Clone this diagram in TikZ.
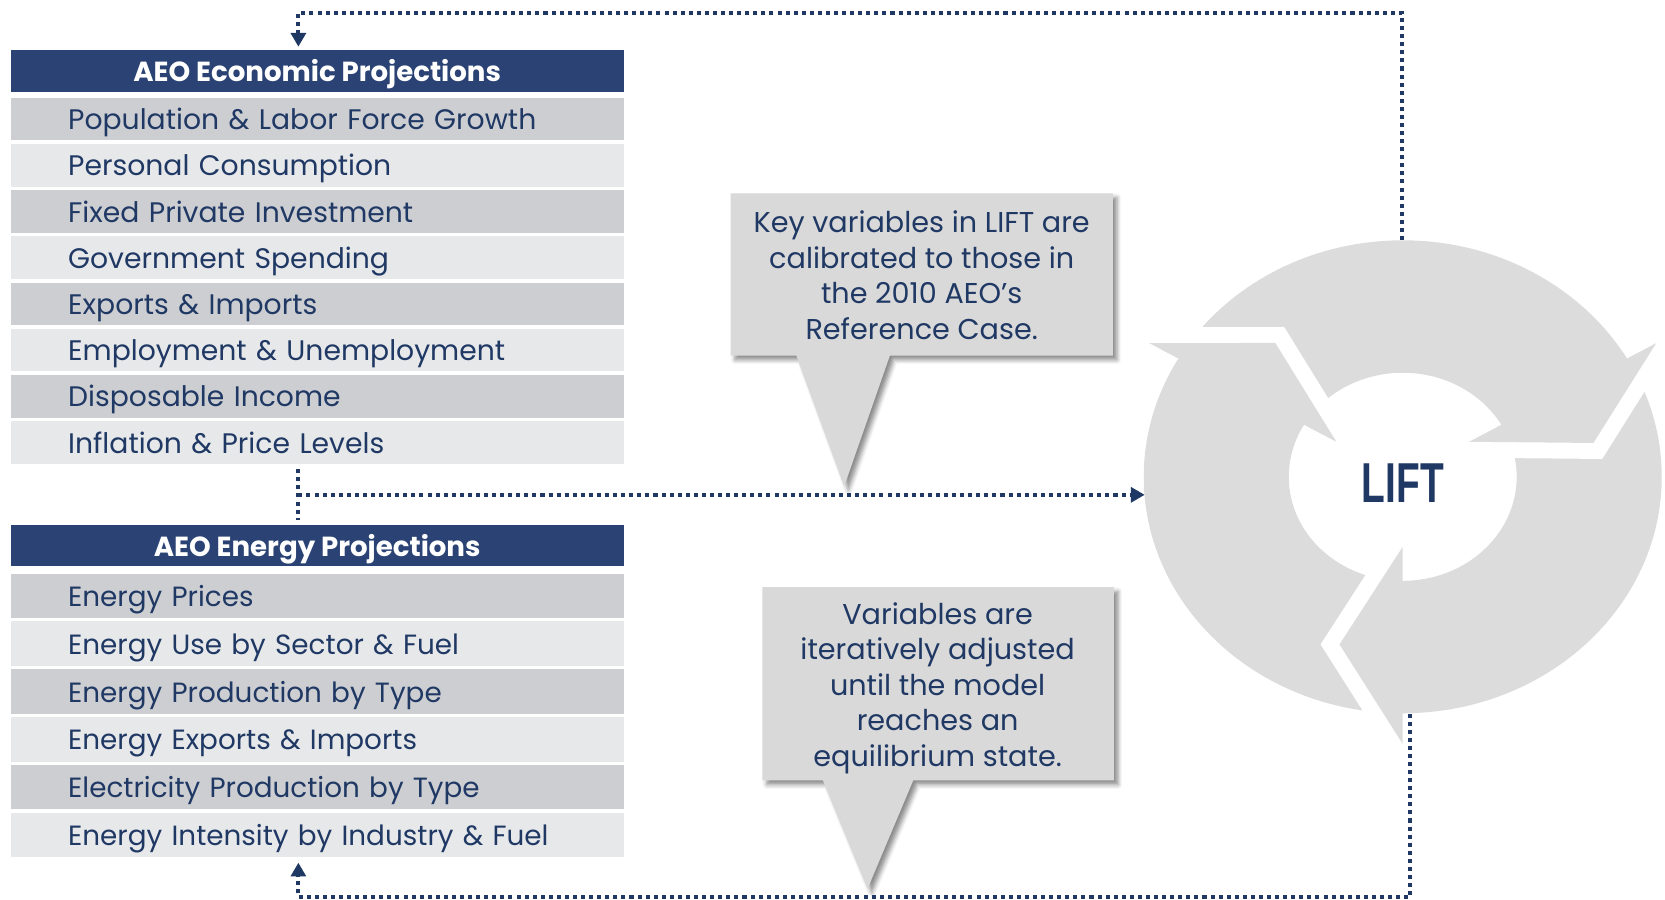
\documentclass[tikz,border=0pt]{standalone}
\usepackage{fontspec}
\setmainfont{Poppins}
\newfontfamily\liftfont{Liberation Sans}
\usepackage{graphicx}
\usetikzlibrary{arrows.meta,shadows.blur}

\definecolor{navy}{HTML}{1F3864}
\definecolor{headblue}{HTML}{2A4374}
\definecolor{shade1}{HTML}{CDCED2}
\definecolor{shade0}{HTML}{E7E8EA}
\definecolor{ringgray}{HTML}{DCDCDC}
\definecolor{notegray}{HTML}{D9D9D9}

\tikzset{
  head/.style={anchor=north west, fill=headblue, text=white, minimum width=577, minimum height=39, inner sep=0pt, text height=22pt, text depth=1pt, font=\bfseries\fontsize{26}{30}\selectfont},
  row/.style={anchor=north west, minimum width=577, inner xsep=54pt, inner ysep=0pt, text width=469pt, align=left, text=navy, text height=23pt, text depth=3pt, font=\fontsize{26.6}{30}\selectfont},
  link/.style={navy, line width=3.8pt, dash pattern=on 3.8pt off 3.8pt},
  tip/.style={-{Triangle[width=14pt,length=13pt]}},
  callout/.style={fill=notegray, blur shadow={shadow xshift=4pt, shadow yshift=-4pt, shadow blur radius=4pt, shadow opacity=45}},
  notetext/.style={text=navy, align=center, font=\fontsize{27}{33.5}\selectfont},
}

\begin{document}
\begin{tikzpicture}[x=1pt,y=-1pt]
  \useasboundingbox (0,0) rectangle (1568,847);

  % economic projections table
  \node[head] (eco) at (10,47) {AEO Economic Projections};
  \foreach \txt [count=\i] in {Population \& Labor Force Growth, Personal Consumption, Fixed Private Investment, Government Spending, Exports \& Imports, Employment \& Unemployment, Disposable Income, Inflation \& Price Levels}{
    \pgfmathtruncatemacro\m{mod(\i,2)}
    \node[row, minimum height=40, fill=shade\m] (eco\i) at (10,{92+(\i-1)*43.5}) {\txt};
  }

  % energy projections table
  \node[head] (nrg) at (10,494) {AEO Energy Projections};
  \foreach \txt [count=\i] in {Energy Prices, Energy Use by Sector \& Fuel, Energy Production by Type, Energy Exports \& Imports, Electricity Production by Type, Energy Intensity by Industry \& Fuel}{
    \pgfmathtruncatemacro\m{mod(\i,2)}
    \node[row, minimum height=42, fill=shade\m, font=\fontsize{26.2}{30}\selectfont] (nrg\i) at (10,{540+(\i-1)*45}) {\txt};
  }

  % lift cycle: ring cut into three arrows
  \begin{scope}[shift={(1321,449)}, x=243.9pt, y=-222.7pt]
    \fill[ringgray, even odd rule] (0,0) circle (1) (0,0) circle (0.44);
    \foreach \a in {-30,90,210}{
      \draw[white, line width=30pt, shorten <=8pt, shorten >=8pt] (\a:1.13) -- (\a+19:0.75) -- (\a:0.296);
      \fill[ringgray] (\a:1.13) -- (\a+19:0.75) -- (\a:0.296) -- cycle;
    }
  \end{scope}
  \node[text=navy, font=\liftfont\bfseries\fontsize{53}{53}\selectfont] (lift) at (1321,455) {\scalebox{0.69}[1]{LIFT}};

  % callouts
  \fill[callout] (688,182) -- (1048,182) -- (1048,335) -- (838,335) -- (795,458) -- (750,335) -- (688,335) -- cycle;
  \node[notetext] (note1) at (868,259) {Key variables in LIFT are\\calibrated to those in\\the 2010 AEO’s\\Reference Case.};
  \fill[callout] (718,553) -- (1049,553) -- (1049,735) -- (860,735) -- (817,837) -- (775,735) -- (718,735) -- cycle;
  \node[notetext] (note2) at (883,648) {Variables are\\iteratively adjusted\\until the model\\reaches an\\equilibrium state.};

  % dotted links
  \coordinate (split) at (281,466);
  \coordinate (ringtop) at (1320,226);
  \coordinate (ringleft) at (1078,466);
  \coordinate (ringbot) at (1328,672);
  \path (eco.north -| split) ++(0,-3) coordinate (ecoin);
  \path (nrg6.south -| split) ++(0,5) coordinate (nrgin);
  \path (eco8.south -| split) ++(0,5) coordinate (gapa);
  \path (nrg.north -| split) ++(0,-4) coordinate (gapb);

  \draw[link, tip] (ringtop) -- ++(0,-214) -| (ecoin);
  \draw[link] (gapa) -- (gapb);
  \draw[link, tip] (split) -- (ringleft);
  \draw[link, tip] (ringbot) -- ++(0,173) -| (nrgin);
\end{tikzpicture}
\end{document}
